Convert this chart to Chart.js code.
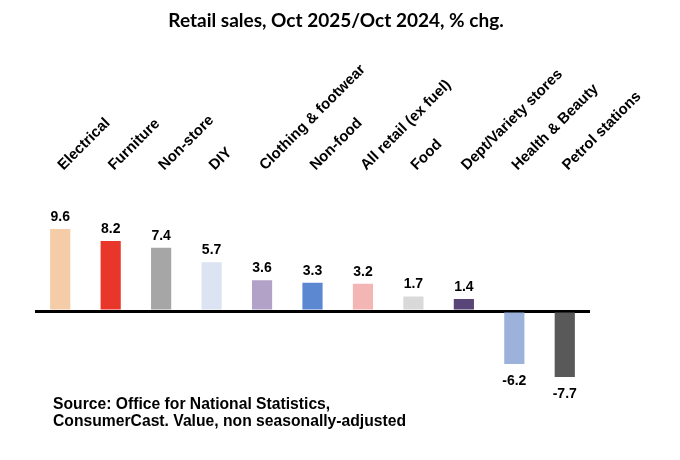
<!DOCTYPE html>
<html>
<head>
<meta charset="utf-8">
<script src="https://cdn.jsdelivr.net/npm/chart.js@4.4.0/dist/chart.umd.min.js"></script>
<style>
  html, body { margin: 0; padding: 0; background: #fff; }
  #wrap { width: 680px; height: 460px; position: relative; }
</style>
</head>
<body>
<div id="wrap"><canvas id="salesChart"></canvas></div>
<script>
// categories and % change, Oct 2025 vs Oct 2024
const categories = ['Electrical', 'Furniture', 'Non-store', 'DIY', 'Clothing & footwear', 'Non-food',
  'All retail (ex fuel)', 'Food', 'Dept/Variety stores', 'Health & Beauty', 'Petrol stations'];
const pctChange = [9.6, 8.2, 7.4, 5.7, 3.6, 3.3, 3.2, 1.7, 1.4, -6.2, -7.7];
const barColors = ['#F5CCA8', '#E8372A', '#A6A6A6', '#DCE3F2', '#B3A2C7', '#5B88D1',
  '#F4B5B5', '#D9D9D9', '#5A4578', '#9DB2DA', '#595959'];
const titleText = 'Retail sales, Oct 2025/Oct 2024, % chg.';
const sourceLines = ['Source: Office for National Statistics,', 'ConsumerCast. Value, non seasonally-adjusted'];

// value labels above / below each bar
const valueLabels = {
  id: 'valueLabels',
  afterDatasetsDraw(chart) {
    const ctx = chart.ctx;
    const meta = chart.getDatasetMeta(0);
    ctx.save();
    ctx.font = 'bold 14px "Liberation Sans", Arial, sans-serif';
    ctx.fillStyle = '#000';
    ctx.textAlign = 'center';
    ctx.textBaseline = 'middle';
    meta.data.forEach((bar, i) => {
      const v = pctChange[i];
      const y = v >= 0 ? bar.y - 12 : bar.y + 17;
      ctx.fillText(v.toFixed(1), bar.x, y);
    });
    ctx.restore();
  }
};

// title centred on the whole canvas + source note bottom-left
const textNotes = {
  id: 'textNotes',
  afterDraw(chart) {
    const ctx = chart.ctx;
    ctx.save();
    ctx.fillStyle = '#000';
    ctx.textBaseline = 'middle';
    ctx.textAlign = 'center';
    ctx.font = 'bold 19px Lato, "Open Sans", sans-serif';
    ctx.fillText(titleText, chart.width / 2 - 4, 21);
    ctx.textAlign = 'left';
    ctx.font = 'bold 15.7px "Liberation Sans", Arial, sans-serif';
    sourceLines.forEach((line, i) => ctx.fillText(line, 53, 405 + i * 17));
    ctx.restore();
  }
};

new Chart(document.getElementById('salesChart'), {
  type: 'bar',
  data: {
    labels: categories,
    datasets: [{
      data: pctChange,
      backgroundColor: barColors,
      borderWidth: 0,
      barPercentage: 0.4,
      categoryPercentage: 1
    }]
  },
  options: {
    responsive: true,
    maintainAspectRatio: false,
    animation: false,
    layout: { padding: { top: 41, left: 35, right: 90, bottom: 72 } },
    plugins: {
      legend: { display: false },
      tooltip: { enabled: false },
      title: { display: false }
    },
    scales: {
      x: {
        position: 'top',
        grid: { display: false, drawTicks: false },
        border: { display: false },
        ticks: {
          color: '#000',
          font: { family: '"Liberation Sans", Arial, sans-serif', size: 15, weight: 'bold' },
          minRotation: 45,
          maxRotation: 45,
          autoSkip: false,
          labelOffset: 13,
          padding: 17
        },
        afterFit(scale) { scale.height = 150.3; }
      },
      y: {
        min: -9,
        max: 14,
        ticks: { display: false, stepSize: 1 },
        border: { display: false },
        grid: {
          drawTicks: false,
          color: c => c.tick && c.tick.value === 0 ? '#000' : 'rgba(0,0,0,0)',
          lineWidth: c => c.tick && c.tick.value === 0 ? 3 : 0
        },
        afterFit(scale) { scale.width = 0; }
      }
    }
  },
  plugins: [valueLabels, textNotes]
});
</script>
</body>
</html>
